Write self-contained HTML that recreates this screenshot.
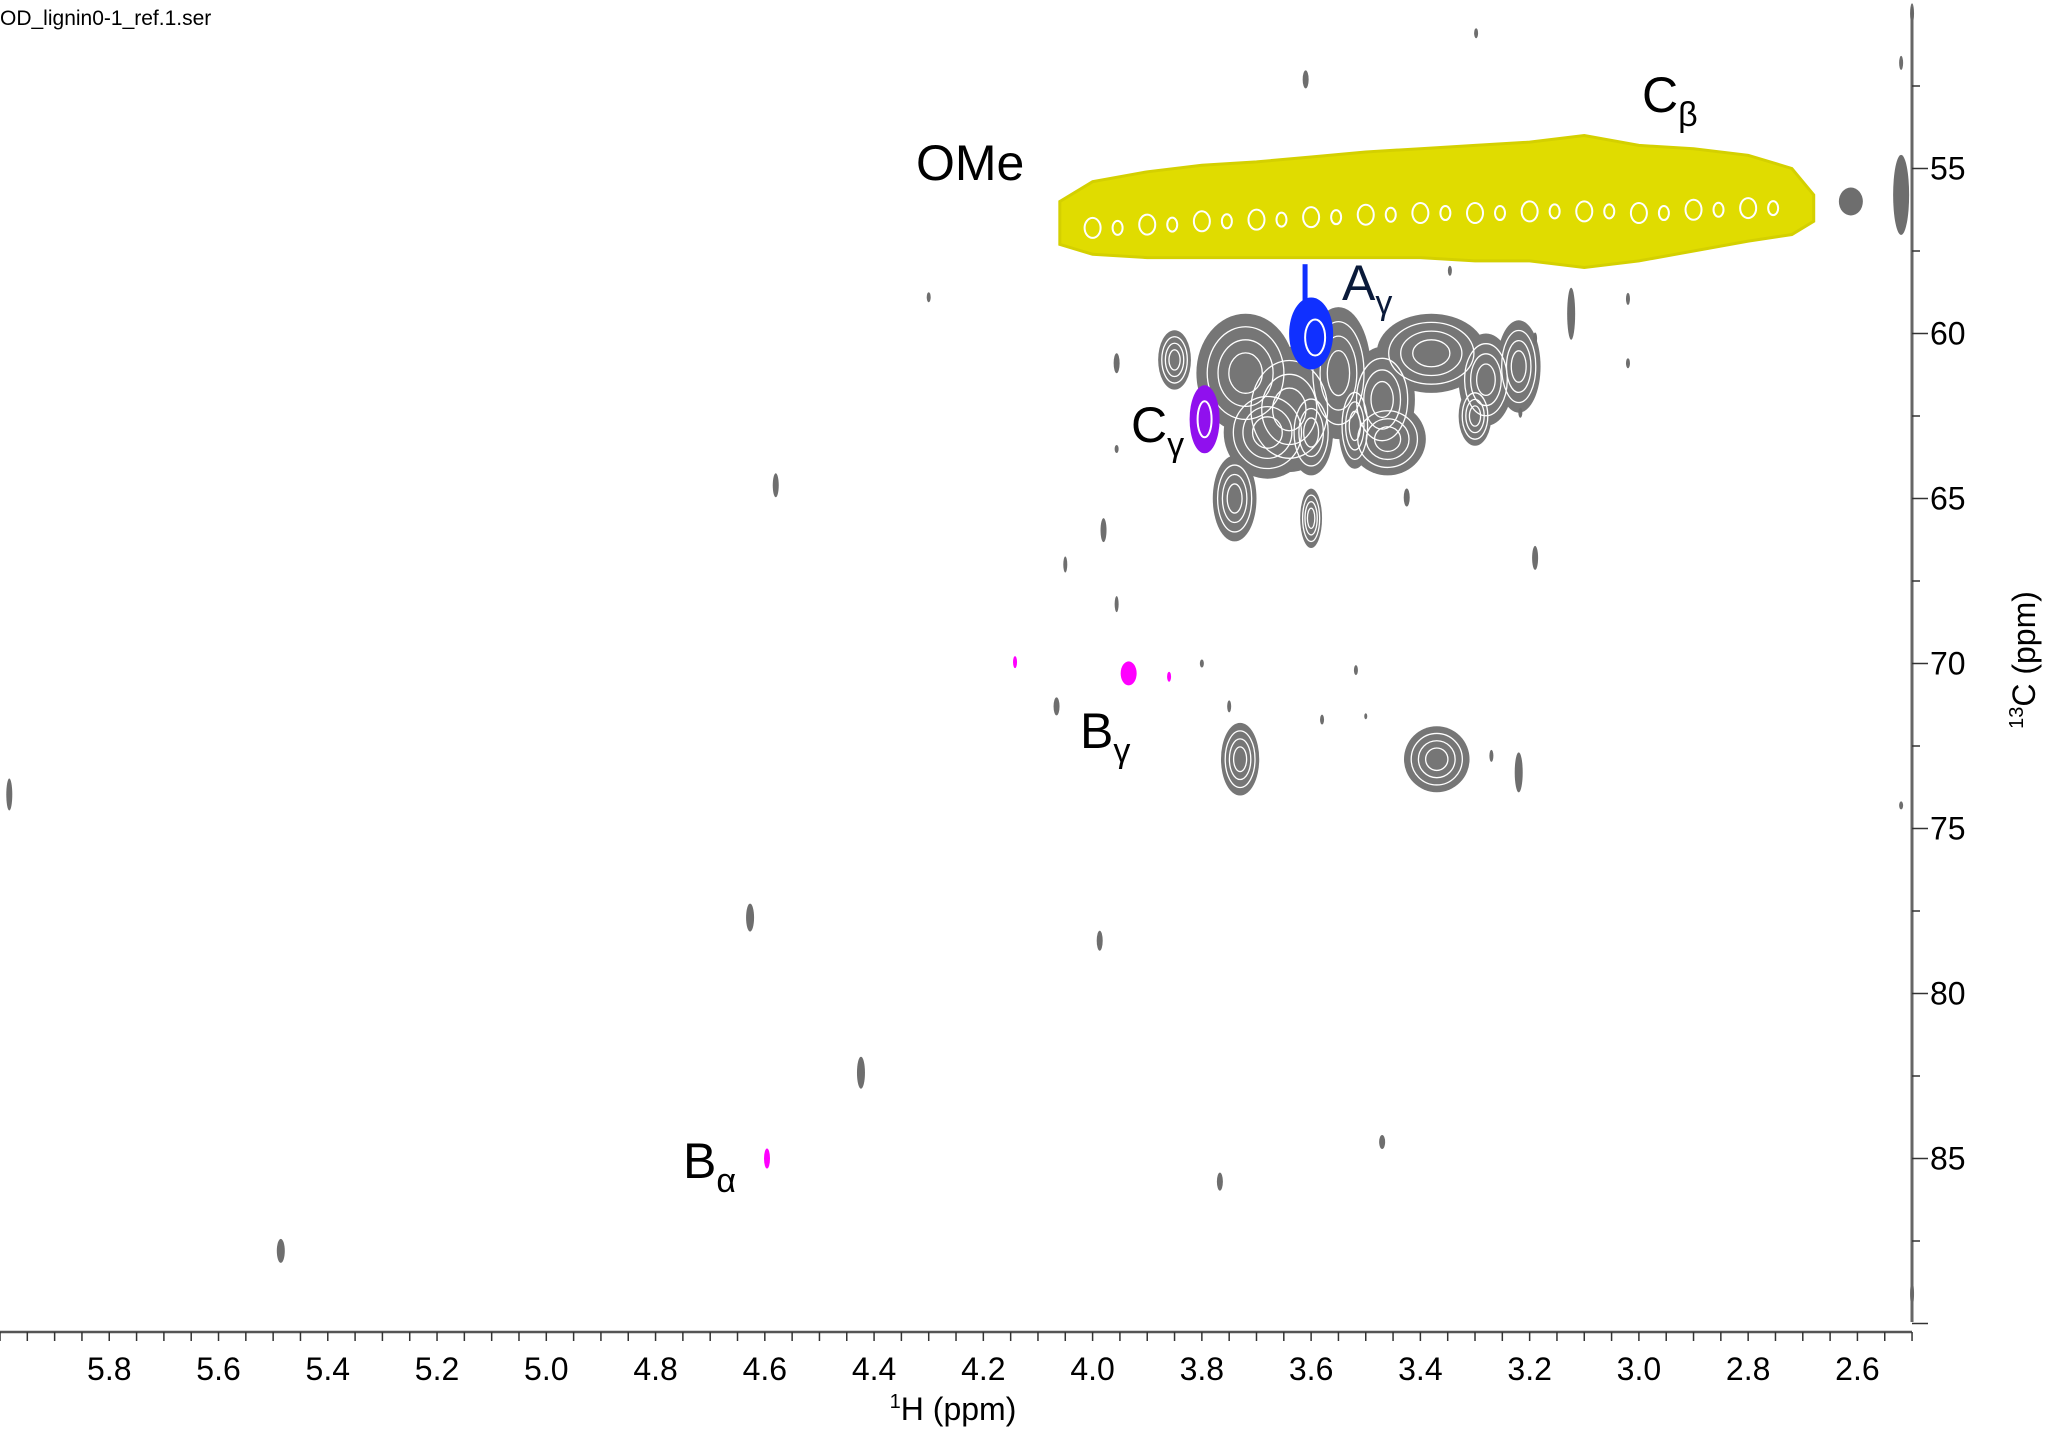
<!DOCTYPE html>
<html><head><meta charset="utf-8"><style>
html,body{margin:0;padding:0;background:#fff;}
svg{display:block;font-family:"Liberation Sans","DejaVu Sans",sans-serif;}
</style></head><body>
<svg id="chart" width="2048" height="1430" viewBox="0 0 2048 1430" xmlns="http://www.w3.org/2000/svg">
<text x="0" y="25" font-size="21" fill="#000">OD_lignin0-1_ref.1.ser</text>
<g id="marks"></g>
<g id="axes"></g>
<g font-size="50" fill="#000">
<text x="916" y="180">OMe</text>
<text x="1642" y="112">C<tspan font-size="34" dy="14">β</tspan></text>
<text x="1342" y="300" fill="#0a1a3a">A<tspan font-size="34" dy="14">γ</tspan></text>
<text x="1131" y="442">C<tspan font-size="34" dy="14">γ</tspan></text>
<text x="1080" y="748">B<tspan font-size="34" dy="14">γ</tspan></text>
<text x="683" y="1178">B<tspan font-size="34" dy="14">α</tspan></text>
</g>
</svg>
<script>
// axis domains
const hTicks = [5.8,5.6,5.4,5.2,5.0,4.8,4.6,4.4,4.2,4.0,3.8,3.6,3.4,3.2,3.0,2.8,2.6];
const cTicks = [55,60,65,70,75,80,85];
// yellow methoxyl band edges (H ppm, top C, bottom C)
const omeH   = [4.06,4.00,3.90,3.80,3.70,3.60,3.50,3.40,3.30,3.20,3.10,3.00,2.90,2.80,2.72,2.68];
const omeTop = [56.0,55.4,55.1,54.9,54.8,54.65,54.5,54.4,54.3,54.2,54.0,54.3,54.4,54.6,55.0,55.8];
const omeBot = [57.3,57.6,57.7,57.7,57.7,57.7,57.7,57.7,57.8,57.8,58.0,57.8,57.5,57.2,57.0,56.6];
// gray contour blobs: H, C, half-width H (ppm), half-height C (ppm)
const blobH  = [3.72,3.64,3.55,3.47,3.38,3.28,3.22,3.68,3.46,3.85,3.74,3.60,3.60,3.52,3.30,3.73,3.37];
const blobC  = [61.2,62.3,61.2,62.0,60.6,61.4,61.0,63.0,63.2,60.8,65.0,65.6,63.0,62.8,62.5,72.9,72.9];
const blobRH = [0.09,0.09,0.06,0.06,0.10,0.05,0.04,0.08,0.07,0.03,0.04,0.02,0.04,0.03,0.03,0.035,0.06];
const blobRC = [1.8,1.9,2.0,1.6,1.2,1.4,1.4,1.4,1.1,0.9,1.3,0.9,1.3,1.3,0.9,1.1,1.0];
// small gray peaks: H, C, rx px, ry px
const dotH = [3.298,3.61,2.52,2.50,2.612,2.52,4.30,3.346,3.124,3.02,3.19,3.02,3.956,3.217,3.956,4.58,3.425,3.98,4.05,3.19,3.956,3.80,3.518,4.066,3.75,3.58,3.50,3.27,3.22,5.983,2.52,4.627,3.987,4.424,3.47,3.767,5.486,2.50];
const dotC = [50.9,52.3,51.8,50.3,56.0,55.8,58.9,58.1,59.4,58.95,60.15,60.9,60.9,62.4,63.5,64.6,64.97,65.96,67.0,66.8,68.2,70.0,70.2,71.3,71.3,71.7,71.6,72.8,73.3,73.97,74.3,77.7,78.4,82.4,84.5,85.7,87.8,89.1];
const dotRX = [2,3,2,2,12,8,2,2,4,2,2,2,3,2,2,3,3,3,2,3,2,2,2,3,2,2,1.5,2,4,3,2,4,3,4,3,3,4,2];
const dotRY = [5,9,7,10,14,40,5,5,26,6,6,5,10,5,4,12,9,12,8,12,8,4,5,9,6,5,3,6,20,16,4,14,10,16,7,9,12,12];
// colored peaks
const magH = [4.142,3.934,3.86,4.596];
const magC = [69.96,70.3,70.4,85.0];
const magRX = [2,8,2,3];
const magRY = [6,12,5,10];

const X = h => (6.0 - h) * 546.3;
const Y = c => 168.5 + (c - 55) * 33;
const NS = "http://www.w3.org/2000/svg";
const marks = document.getElementById('marks');
const axes = document.getElementById('axes');
function mk(tag, attrs, parent){const e=document.createElementNS(NS,tag);for(const k in attrs)e.setAttribute(k,attrs[k]);parent.appendChild(e);return e;}

// OMe band
let pts=[];
for(let i=0;i<omeH.length;i++)pts.push(X(omeH[i])+','+Y(omeTop[i]));
for(let i=omeH.length-1;i>=0;i--)pts.push(X(omeH[i])+','+Y(omeBot[i]));
const band=mk('polygon',{points:pts.join(' '),fill:'#e0dc00',stroke:'#d4d000','stroke-width':3},marks);


for(let i=1;i<omeH.length-2;i++){
  const cx=X(omeH[i]),cy=Y((omeTop[i]+omeBot[i])/2+0.3);
  const ring=mk('ellipse',{cx:cx,cy:cy,rx:8,ry:10,fill:'none',stroke:'#fff','stroke-width':2},marks);
  
  
  const ring2=mk('ellipse',{cx:cx+25,cy:cy,rx:5,ry:7,fill:'none',stroke:'#fff','stroke-width':2},marks);
  
  
}

// gray blobs
for(let i=0;i<blobH.length;i++){
  const cx=X(blobH[i]),cy=Y(blobC[i]),rx=blobRH[i]*546.3,ry=blobRC[i]*33;
  const b=mk('ellipse',{cx:cx,cy:cy,rx:rx,ry:ry,fill:'#767676'},marks);
  
  
}
for(let i=0;i<blobH.length;i++){
  const cx=X(blobH[i]),cy=Y(blobC[i]),rx=blobRH[i]*546.3,ry=blobRC[i]*33;
  for(let k=1;k<=3;k++){
    const r=mk('ellipse',{cx:cx,cy:cy,rx:rx*(1-k*0.22),ry:ry*(1-k*0.22),fill:'none',stroke:'#fff','stroke-width':1.3},marks);
    
    
  }
}
// small gray peaks
for(let i=0;i<dotH.length;i++){
  const d=mk('ellipse',{cx:X(dotH[i]),cy:Y(dotC[i]),rx:dotRX[i],ry:dotRY[i],fill:'#6e6e6e'},marks);
  
  
}
// magenta peaks
for(let i=0;i<magH.length;i++){
  const d=mk('ellipse',{cx:X(magH[i]),cy:Y(magC[i]),rx:magRX[i],ry:magRY[i],fill:'#ff00ff'},marks);
  
  
}
// A gamma (blue)
const aH=3.60,aC=60.0;
const aspike=mk('rect',{x:X(aH+0.012)-2,y:Y(57.9),width:5,height:Y(aC)-Y(57.9),fill:'#1030ff'},marks);


const ap=mk('ellipse',{cx:X(aH),cy:Y(aC),rx:22,ry:36,fill:'#1030ff'},marks);


const ap2=mk('ellipse',{cx:X(aH)+4,cy:Y(aC)+4,rx:10,ry:18,fill:'none',stroke:'#fff','stroke-width':2},marks);


// C gamma (purple)
const cp=mk('ellipse',{cx:X(3.795),cy:Y(62.6),rx:15,ry:34,fill:'#9010ee'},marks);


const cp2=mk('ellipse',{cx:X(3.795),cy:Y(62.6),rx:7,ry:18,fill:'none',stroke:'#fff','stroke-width':2},marks);



// X axis
const xl=mk('line',{x1:0,y1:1332,x2:1912,y2:1332,stroke:'#555','stroke-width':2.5},axes);


for(let k=0;k<=70;k++){
  const h=6.0-k*0.05;
  const t=mk('line',{x1:X(h),y1:1332,x2:X(h),y2:1341,stroke:'#333','stroke-width':1.5},axes);
  
  
}
hTicks.forEach(h=>{
  const t=mk('text',{x:X(h),y:1380,'font-size':32,'text-anchor':'middle',fill:'#000'},axes);
  t.textContent=h.toFixed(1);
  
  
});
const xt=mk('text',{x:953,y:1420,'font-size':32,'text-anchor':'middle',fill:'#000'},axes);


const xs1=mk('tspan',{'font-size':20,dy:-12},xt); xs1.textContent='1';
const xs2=mk('tspan',{dy:12},xt); xs2.textContent='H (ppm)';

// Y axis (right)
const yl=mk('line',{x1:1912,y1:7,x2:1912,y2:1322,stroke:'#666','stroke-width':3},axes);


for(let k=0;k<=15;k++){
  const c=52.5+k*2.5;
  const major=(k%2===1);
  const t=mk('line',{x1:1912,y1:Y(c),x2:major?1928:1920,y2:Y(c),stroke:'#333','stroke-width':1.5},axes);
  
  
}
cTicks.forEach(c=>{
  const t=mk('text',{x:1930,y:Y(c)+11,'font-size':32,fill:'#000'},axes);
  t.textContent=c;
  
  
});
const yt=mk('text',{x:0,y:0,'font-size':32,'text-anchor':'middle',fill:'#000',transform:'translate(2035,660) rotate(-90)'},axes);


const ys1=mk('tspan',{'font-size':20,dy:-12},yt); ys1.textContent='13';
const ys2=mk('tspan',{dy:12},yt); ys2.textContent='C (ppm)';
</script>
</body></html>
